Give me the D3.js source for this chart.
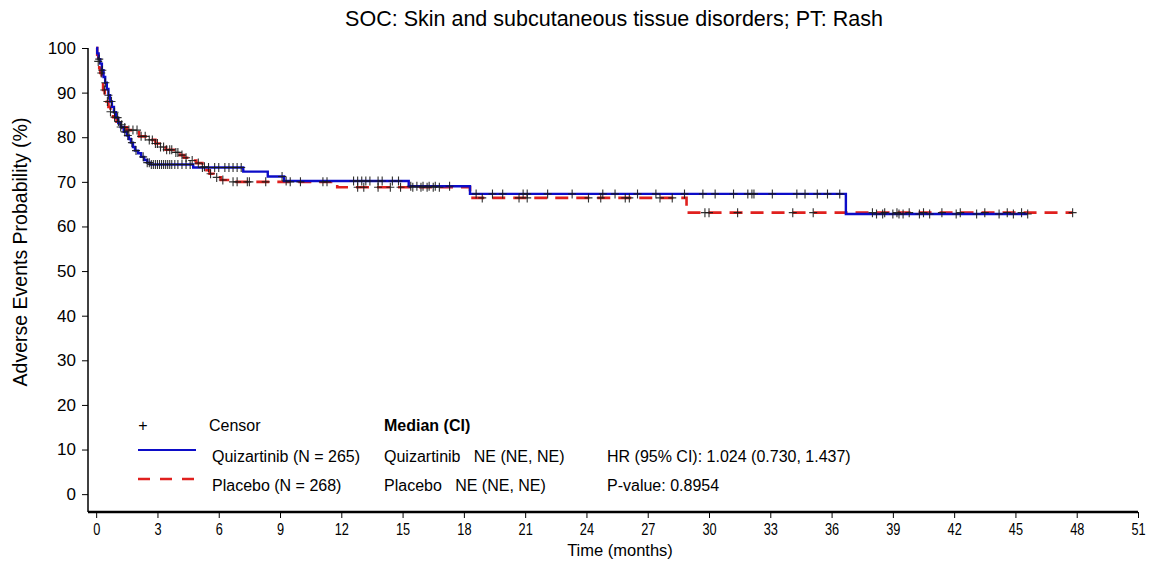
<!DOCTYPE html>
<html>
<head>
<meta charset="utf-8">
<script src="https://cdn.jsdelivr.net/npm/d3@7"></script>
<style>
  html, body { margin: 0; padding: 0; background: #fff; }
  svg { display: block; font-family: "Liberation Sans", Arial, sans-serif; }
</style>
</head>
<body>
<svg id="chart" width="1156" height="565"></svg>
<script>
// ---------- data ----------
const chartTitle = "SOC: Skin and subcutaneous tissue disorders; PT: Rash";
const xTicks = [0, 3, 6, 9, 12, 15, 18, 21, 24, 27, 30, 33, 36, 39, 42, 45, 48, 51];
const yTicks = [0, 10, 20, 30, 40, 50, 60, 70, 80, 90, 100];

// Quizartinib step curve (time in months, probability %)
const quizTimes = [0, 0.05, 0.12, 0.2, 0.28, 0.36, 0.44, 0.52, 0.6, 0.68, 0.77, 0.87, 0.97, 1.08, 1.2, 1.35, 1.5, 1.6, 1.7, 1.8, 1.9, 2.05, 2.2, 2.35, 2.5, 2.65, 4.75, 7.2, 8.4, 9.2, 15.3, 18.3, 36.7, 45.6];
const quizValues = [100, 98.8, 97.5, 96.5, 95, 93.5, 92.2, 90.8, 89.4, 88, 86.8, 85.6, 84.4, 83.2, 82.3, 81.2, 80.4, 79.6, 78.8, 77.8, 77.0, 76.4, 75.6, 74.9, 74.3, 73.9, 73.2, 72.3, 71.2, 70.2, 69.0, 67.3, 62.8, 62.8];
const quizCensor = [0.15, 0.3, 0.45, 0.6, 0.75, 0.9, 1.05, 1.2, 1.4, 1.55, 1.75, 1.95, 2.3, 2.5, 2.6, 2.7, 2.8, 2.9, 3.0, 3.1, 3.2, 3.3, 3.4, 3.5, 3.6, 3.7, 3.85, 4.0, 4.2, 4.4, 4.6, 5.2, 5.5, 5.8, 6.0, 6.3, 6.5, 6.7, 6.9, 7.1, 9.1, 9.3, 12.6, 12.8, 13.0, 13.2, 13.4, 13.8, 14.0, 14.5, 14.8, 15.4, 15.7, 16.0, 16.3, 16.6, 17.3, 18.6, 19.4, 19.9, 20.9, 21.1, 22.1, 23.3, 24.8, 25.4, 26.5, 27.4, 28.8, 29.7, 30.3, 31.2, 31.9, 32.1, 32.2, 33.1, 34.3, 34.7, 35.3, 35.8, 36.4, 38.2, 38.5, 39.0, 39.3, 39.5, 40.3, 40.8, 42.1, 43.1, 44.2, 44.9, 45.6];

// Placebo step curve
const placTimes = [0, 0.05, 0.1, 0.15, 0.2, 0.27, 0.34, 0.42, 0.5, 0.6, 0.7, 0.83, 1.0, 1.15, 1.3, 1.5, 2.1, 2.6, 2.9, 3.1, 3.4, 3.8, 4.1, 4.3, 4.6, 4.9, 5.2, 5.4, 5.55, 5.75, 6.1, 6.45, 11.8, 18.3, 28.9, 47.8];
const placValues = [100, 98.5, 97, 95.5, 94.4, 92.5, 90.6, 89.2, 88, 86.8, 85.7, 84.5, 83.5, 82.8, 82.2, 81.6, 80.2, 79.4, 78.6, 77.8, 77.2, 76.6, 76.0, 75.4, 74.8, 74.2, 73.4, 72.6, 71.8, 71.0, 70.4, 70.0, 68.8, 66.4, 63.1, 63.1];
const placCensor = [0.1, 0.25, 0.4, 0.55, 0.7, 0.9, 1.1, 1.25, 1.4, 1.6, 1.8, 2.0, 2.2, 2.4, 2.6, 2.75, 2.9, 3.0, 3.15, 3.3, 3.45, 3.6, 3.7, 3.9, 4.0, 4.2, 4.4, 4.7, 5.0, 5.3, 5.6, 5.9, 6.2, 6.7, 6.9, 7.4, 7.5, 8.3, 9.5, 10.0, 11.1, 11.3, 12.8, 13.1, 13.8, 14.4, 14.9, 15.5, 15.9, 16.2, 16.5, 16.8, 18.9, 20.7, 21.1, 24.1, 24.7, 25.9, 26.1, 27.6, 28.2, 29.8, 30.0, 31.4, 34.1, 35.1, 38.0, 38.6, 39.2, 39.8, 40.5, 41.4, 42.3, 43.5, 44.6, 45.3, 47.8];

const legendLabels = ["Quizartinib (N = 265)", "Placebo (N = 268)"];
const medianLabels = ["Quizartinib   NE (NE, NE)", "Placebo   NE (NE, NE)"];
const statLabels = ["HR (95% CI): 1.024 (0.730, 1.437)", "P-value: 0.8954"];

(function () {
// ---------- layout ----------
const svg = d3.select("#chart");
const font = "\"Liberation Sans\", Arial, sans-serif";
const pL = 88, pR = 1138, pT = 48, pB = 512;

const x = d3.scaleLinear().domain([-0.4, 51]).range([pL, pR]);
const y = d3.scaleLinear().domain([-4, 100]).range([pB, pT]);

// title
svg.append("text")
  .attr("x", 614).attr("y", 26)
  .attr("text-anchor", "middle")
  .attr("font-size", 21.5).attr("fill", "#000")
  .text(chartTitle);

// y axis
const yAxis = svg.append("g").attr("transform", `translate(${pL},0)`)
  .call(d3.axisLeft(y).tickValues(yTicks).tickSize(6).tickPadding(6).tickSizeOuter(0));
yAxis.select(".domain").attr("stroke", "#000").attr("stroke-width", 1.5)
  .attr("d", `M0,${pT}V${pB}`);
yAxis.selectAll(".tick line").attr("stroke", "#000");
yAxis.selectAll(".tick text").attr("font-size", 17).attr("font-family", font).attr("fill", "#000");

// x axis
const xAxis = svg.append("g").attr("transform", `translate(0,${pB})`)
  .call(d3.axisBottom(x).tickValues(xTicks).tickSize(6).tickPadding(5).tickSizeOuter(0));
xAxis.select(".domain").attr("stroke", "#000").attr("stroke-width", 2.5)
  .attr("d", `M${pL},0H${pR}`);
xAxis.selectAll(".tick line").attr("stroke", "#000");
xAxis.selectAll(".tick text").attr("font-size", 17).attr("font-family", font).attr("fill", "#000")
  .attr("transform", "scale(0.75,1)").attr("x", 0);

// axis titles
svg.append("text")
  .attr("transform", `translate(27,252) rotate(-90)`)
  .attr("text-anchor", "middle").attr("font-size", 19.5).attr("fill", "#000")
  .text("Adverse Events Probability (%)");
svg.append("text")
  .attr("x", 620).attr("y", 556)
  .attr("text-anchor", "middle").attr("font-size", 16.5).attr("fill", "#000")
  .text("Time (months)");

// curves
const line = d3.line().x(d => x(d[0])).y(d => y(d[1])).curve(d3.curveStepAfter);
function stepAt(times, values, t) {
  let v = values[0];
  for (let i = 0; i < times.length; i++) { if (times[i] <= t) v = values[i]; }
  return v;
}
const series = [
  { times: placTimes, values: placValues, censor: placCensor, color: "#e0201e", width: 2.6, dash: "13,8" },
  { times: quizTimes, values: quizValues, censor: quizCensor, color: "#0c0cc8", width: 2.4, dash: null }
];
series.forEach(s => {
  const pts = s.times.map((t, i) => [t, s.values[i]]);
  const p = svg.append("path").datum(pts)
    .attr("fill", "none").attr("stroke", s.color).attr("stroke-width", s.width)
    .attr("d", line);
  if (s.dash) p.attr("stroke-dasharray", s.dash);
});
series.forEach(s => {
  svg.append("g").selectAll("path").data(s.censor).join("path")
    .attr("d", t => {
      const cx = x(t), cy = y(stepAt(s.times, s.values, t));
      return `M${cx - 4},${cy}H${cx + 4}M${cx},${cy - 4.5}V${cy + 4.5}`;
    })
    .attr("stroke", "#1a1a1a").attr("stroke-width", 1.1).attr("fill", "none").attr("opacity", 0.9);
});

// legend
const lg = svg.append("g").attr("font-size", 16).attr("fill", "#000");
lg.append("text").attr("x", 143).attr("y", 431).attr("text-anchor", "middle").text("+");
lg.append("text").attr("x", 209).attr("y", 431).text("Censor");
lg.append("text").attr("x", 384).attr("y", 431).attr("font-weight", "bold").text("Median (CI)");
lg.append("line").attr("x1", 138).attr("x2", 196).attr("y1", 450).attr("y2", 450)
  .attr("stroke", series[1].color).attr("stroke-width", 2);
lg.append("line").attr("x1", 138).attr("x2", 196).attr("y1", 479).attr("y2", 479)
  .attr("stroke", series[0].color).attr("stroke-width", 2.4).attr("stroke-dasharray", "12,10");
lg.append("text").attr("x", 212).attr("y", 462).text(legendLabels[0]);
lg.append("text").attr("x", 212).attr("y", 491).text(legendLabels[1]);
lg.append("text").attr("x", 384).attr("y", 462).attr("xml:space", "preserve").style("white-space", "pre").text(medianLabels[0]);
lg.append("text").attr("x", 384).attr("y", 491).attr("xml:space", "preserve").style("white-space", "pre").text(medianLabels[1]);
lg.append("text").attr("x", 607).attr("y", 462).text(statLabels[0]);
lg.append("text").attr("x", 607).attr("y", 491).text(statLabels[1]);
})();
</script>
</body>
</html>
